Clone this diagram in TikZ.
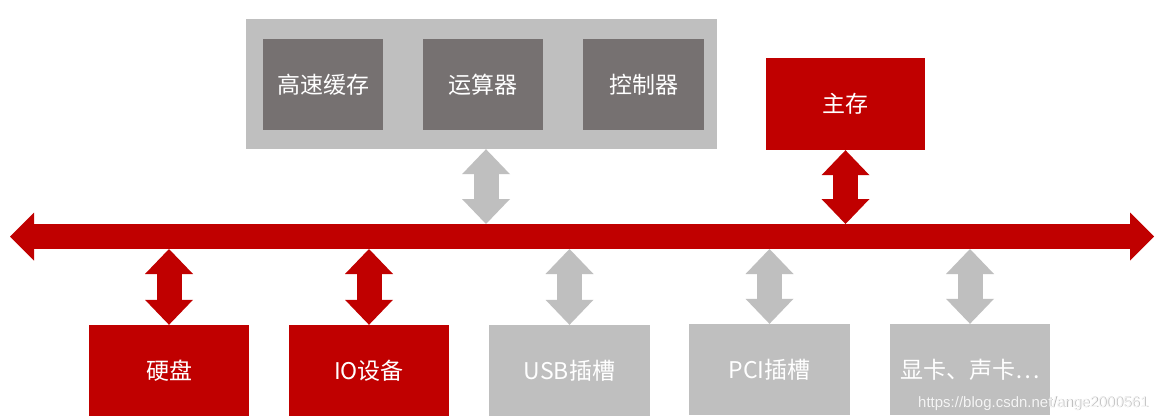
\documentclass[tikz,border=0pt]{standalone}
\usepackage{fontspec}
\setmainfont{Noto Sans CJK SC}
\newfontfamily\wmfont{Liberation Sans}
\usetikzlibrary{arrows.meta}
\definecolor{busred}{RGB}{192,0,0}
\definecolor{lgray}{RGB}{191,191,191}
\definecolor{dgray}{RGB}{118,113,113}
\tikzset{
  box/.style={rectangle, inner sep=0pt, text=white, font=\fontsize{23}{27}\selectfont},
  redbox/.style={box, fill=busred},
  graybox/.style={box, fill=lgray},
  darkbox/.style={box, fill=dgray},
  dbl/.style={line width=25pt, {Triangle[length=25pt,width=48pt,line width=0pt]}-{Triangle[length=25pt,width=48pt,line width=0pt]}},
  busarrow/.style={line width=25pt, {Triangle[length=24pt,width=48pt,line width=0pt]}-{Triangle[length=24pt,width=48pt,line width=0pt]}, draw=busred, fill=busred},
}
\begin{document}
\begin{tikzpicture}[x=1pt,y=-1pt]
\useasboundingbox (0,0) rectangle (1170,420);
\fill[white] (0,0) rectangle (1170,420);
% CPU
\node[graybox, minimum width=471pt, minimum height=130pt] (cpu) at (481.5,84) {};
\node[darkbox, minimum width=120pt, minimum height=91pt] (cache) at (323,84.5) {高速缓存};
\node[darkbox, minimum width=120pt, minimum height=91pt] (alu) at (483,84.5) {运算器};
\node[darkbox, minimum width=121pt, minimum height=91pt] (ctrl) at (643.5,84.5) {控制器};
% main memory
\node[redbox, minimum width=159pt, minimum height=92pt] (mem) at (845.5,104) {主存};
% bottom devices
\node[redbox, minimum width=160pt, minimum height=91pt] (hd) at (169,370.5) {硬盘};
\node[redbox, minimum width=160pt, minimum height=91pt] (io) at (369,370.5) {IO设备};
\node[graybox, minimum width=161pt, minimum height=91pt] (usb) at (569.5,370.5) {USB插槽};
\node[graybox, minimum width=161pt, minimum height=91pt] (pci) at (769.5,369.5) {PCI插槽};
\node[graybox, minimum width=160pt, minimum height=91pt] (gpu) at (970,369.5) {显卡、声卡…};
% bus
\coordinate (busL) at (10,236.5);
\coordinate (busR) at (1154,236.5);
\coordinate (busTop) at (0,224);
\coordinate (busBot) at (0,249);
\draw[busarrow] (busL) -- (busR);
% vertical arrows
\draw[dbl, draw=lgray, fill=lgray] ([xshift=4.5pt]cpu.south) -- ([xshift=4.5pt]cpu.south |- busTop);
\draw[dbl, draw=busred, fill=busred] (mem.south) -- (mem.south |- busTop);
\draw[dbl, draw=busred, fill=busred] (hd.north) -- (hd.north |- busBot);
\draw[dbl, draw=busred, fill=busred] (io.north) -- (io.north |- busBot);
\draw[dbl, draw=lgray, fill=lgray] (usb.north) -- (usb.north |- busBot);
\draw[dbl, draw=lgray, fill=lgray] (pci.north) -- (pci.north |- busBot);
\draw[dbl, draw=lgray, fill=lgray] (gpu.north) -- (gpu.north |- busBot);
% watermark
\node[anchor=base west, inner sep=0pt, text=gray!55, font=\wmfont\fontsize{15}{18}\selectfont] (wms) at (918.8,407.8) {https://blog.csdn.net/ange2000561};
\node[anchor=base west, inner sep=0pt, text=white!92!gray, font=\wmfont\fontsize{15}{18}\selectfont] (wm) at (918,407) {https://blog.csdn.net/ange2000561};
\end{tikzpicture}
\end{document}
